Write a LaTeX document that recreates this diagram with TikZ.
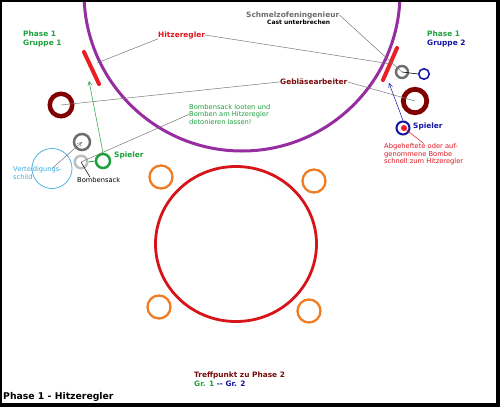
\documentclass[tikz,border=0pt]{standalone}
\usepackage{fontspec}
\setmainfont{DejaVu Sans}
\usetikzlibrary{arrows.meta}
\definecolor{purp}{RGB}{150,45,160}
\definecolor{barred}{RGB}{235,30,35}
\definecolor{bigred}{RGB}{215,20,25}
\definecolor{maroon}{RGB}{128,0,0}
\definecolor{dred}{RGB}{120,10,10}
\definecolor{orng}{RGB}{240,125,35}
\definecolor{grn}{RGB}{30,160,60}
\definecolor{blu}{RGB}{20,20,165}
\definecolor{lblue}{RGB}{60,170,225}
\definecolor{dgray}{RGB}{110,110,110}
\definecolor{lgray}{RGB}{190,190,190}
\definecolor{linegray}{RGB}{120,120,120}
\definecolor{hred}{RGB}{225,20,30}
\begin{document}
\begin{tikzpicture}[x=1pt,y=-1pt,
  lbl/.style={inner sep=0pt, anchor=base west, font=\fontsize{7.4}{9}\selectfont\bfseries},
  lblm/.style={inner sep=0pt, anchor=north west, align=left, font=\fontsize{7.4}{9}\selectfont\bfseries},
  sm/.style={inner sep=0pt, anchor=north west, align=left, font=\fontsize{6.7}{7.6}\selectfont},
  ring/.style={circle, draw, inner sep=0pt, minimum size=#1},
  conn/.style={draw=linegray, line width=0.5pt},
  bar/.style={draw=barred, line width=4pt, line cap=round},
  tip/.style={-{Straight Barb[length=4pt,width=4pt]}}
]
% frame
\useasboundingbox (0,0) rectangle (500,407);
\fill[black] (0,0) rectangle (500,407);
\fill[white] (2,2) rectangle (496,403);
\begin{scope}
  \clip (2,2) rectangle (496,403);
  \draw[purp, line width=3pt] (242,-7) circle (158);
\end{scope}

% big meeting circle and orange rings
\draw[bigred, line width=2.8pt] (236,244) ellipse (80.5 and 77.5);
\node[ring=23, draw=orng, line width=2.3pt] (o1) at (161,177) {};
\node[ring=23, draw=orng, line width=2.3pt] (o2) at (314,181) {};
\node[ring=23, draw=orng, line width=2.3pt] (o3) at (159,307) {};
\node[ring=23, draw=orng, line width=2.3pt] (o4) at (309,311) {};

% Hitzeregler bars
\coordinate (barLa) at (84,52);
\coordinate (barLb) at (99,84);
\coordinate (barRa) at (397,48);
\coordinate (barRb) at (383,80);
\draw[bar] (barLa) -- (barLb);
\draw[bar] (barRa) -- (barRb);
\coordinate (barLc) at (97,63);
\coordinate (barRc) at (391,64);

% rings
\node[ring=22.5, draw=maroon, line width=4.5pt] (gebL) at (61,105) {};
\node[ring=23.5, draw=maroon, line width=4.8pt] (gebR) at (415,101) {};
\node[ring=16, draw=dgray, line width=2.5pt] (shieldL) at (82,142) {};
\node[ring=12.5, draw=lgray, line width=2.5pt] (sackL) at (81,162) {};
\node[ring=14, draw=grn, line width=2.5pt] (spL) at (103,161) {};
\node[ring=12, draw=dgray, line width=2.4pt] (engR) at (402,72) {};
\node[ring=10.5, draw=blu, line width=1.5pt] (bluR) at (424,74) {};
\node[ring=13, draw=blu, line width=2pt] (spR) at (403,128) {};
\node[circle, fill=barred, inner sep=0pt, minimum size=6] (bombR) at (404,128) {};
\node[ring=40, draw=lblue, line width=0.7pt] (shield) at (52,168.5) {};

% labels
\node[lblm, text=grn] (ph1) at (23,30.6) {Phase 1\\Gruppe 1};
\node[lblm] (ph2) at (427,30.6) {{\color{grn}Phase 1}\\{\color{blu}Gruppe 2}};
\node[lbl, text=hred] (hitz) at (158,37) {Hitzeregler};
\node[lbl, text=dgray] (schm) at (246,17) {Schmelzofeningenieur};
\node[lbl, font=\fontsize{6}{7}\selectfont\bfseries] (cast) at (267,24.5) {Cast unterbrechen};
\node[lbl, text=dred] (geb) at (280,84.7) {Gebläsearbeiter};
\node[sm, text=grn] (bombtxt) at (189,104) {Bombensack looten und\\Bomben am Hitzeregler\\detonieren lassen!};
\node[lbl, text=grn] (spLlbl) at (114,157.7) {Spieler};
\node[lbl, text=blu] (spRlbl) at (413,128.7) {Spieler};
\node[sm, text=hred] (abg) at (384,143.5) {Abgeheftete oder auf-\\genommene Bombe\\schnell zum Hitzeregler};
\node[inner sep=0pt, anchor=base west, font=\fontsize{6.7}{7.6}\selectfont] (sacklbl) at (77,182.5) {Bombensack};
\node[sm, text=lblue] (vt) at (13,166.5) {Verteidigungs-\\schild};
\node[lblm] (treff) at (194,371.3) {{\color{dred}Treffpunkt zu Phase 2}\\{\color{grn}Gr. 1} {\color{blu}\mbox{-}\mbox{-} Gr. 2}};
\node[inner sep=0pt, anchor=base west, font=\fontsize{9.3}{11}\selectfont\bfseries] (title) at (3,399.5) {Phase 1 - Hitzeregler};

% connectors
\draw[conn] (hitz.south west) -- (barLc);
\draw[conn] (hitz.east) -- (barRc);
\draw[conn] (schm.east) -- (engR.center);
\draw[conn] (geb.west) -- (gebL.center);
\draw[conn] (geb.east) -- (gebR.center);
\draw[conn] (bombtxt.west) -- (sackL.center);
\draw[conn, tip] (shield.center) -- (shieldL.center);
\draw[black, line width=0.5pt] ([xshift=13pt]sacklbl.north west) -- (sackL.center);
\draw[grn, line width=0.8pt] (sackL.east) -- (spL.west);
\draw[black, line width=0.6pt] (engR.center) -- (bluR.west);
\coordinate (arrL) at (89,81);
\coordinate (arrR) at (389,83);
\draw[grn, line width=0.5pt, tip] (spL.north) -- (arrL);
\draw[blu, line width=0.5pt, tip] (spR.north) -- (arrR);
\draw[hred, line width=0.5pt] (bombR.center) -- (abg.north);
\end{tikzpicture}
\end{document}
